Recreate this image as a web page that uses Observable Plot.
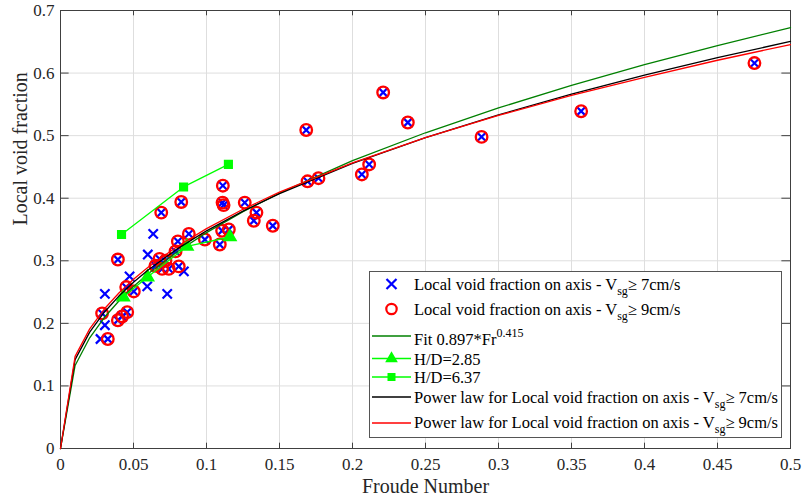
<!DOCTYPE html>
<html><head><meta charset="utf-8">
<script src="https://cdn.jsdelivr.net/npm/d3@7"></script>
<script src="https://cdn.jsdelivr.net/npm/@observablehq/plot@0.6"></script>
<style>
body{margin:0;background:#fff;}
#wrap{width:802px;height:499px;}
</style></head><body><div id="wrap"></div>
<script>
// ---- tick labels ----
const xTicks = [0,0.05,0.1,0.15,0.2,0.25,0.3,0.35,0.4,0.45,0.5];
const xTickLabels = ["0","0.05","0.1","0.15","0.2","0.25","0.3","0.35","0.4","0.45","0.5"];
const yTicks = [0,0.1,0.2,0.3,0.4,0.5,0.6,0.7];
const yTickLabels = ["0","0.1","0.2","0.3","0.4","0.5","0.6","0.7"];

// ---- Local void fraction on axis, Vsg >= 9cm/s (also part of the >= 7cm/s series) ----
const frBoth = [0.0285,0.0324,0.0393,0.0393,0.0422,0.0457,0.0450,0.0502,0.0650,0.0678,0.0696,0.0719,0.0742,0.0810,0.0788,0.0804,0.0879,0.0690,0.0827,0.0989,0.1091,0.1107,0.1153,0.1112,0.1110,0.1117,0.1262,0.1342,0.1324,0.1454,0.1683,0.1692,0.1767,0.2064,0.2114,0.2210,0.2379,0.2884,0.3566,0.4753];
const vBoth  = [0.216,0.175,0.302,0.205,0.211,0.218,0.258,0.251,0.292,0.303,0.287,0.300,0.287,0.291,0.315,0.331,0.343,0.377,0.394,0.334,0.326,0.348,0.350,0.420,0.393,0.389,0.393,0.377,0.364,0.356,0.509,0.427,0.432,0.438,0.454,0.569,0.521,0.498,0.539,0.616];
// ---- extra points of the Vsg >= 7cm/s series only ----
const frOnly7 = [0.0304,0.0304,0.0274,0.0473,0.0594,0.0598,0.0635,0.0731,0.0845];
const vOnly7  = [0.247,0.197,0.175,0.275,0.259,0.310,0.343,0.247,0.283];

// ---- H/D series ----
const frHD285 = [0.0430,0.0596,0.0866,0.1160];
const vHD285  = [0.242,0.274,0.323,0.338];
const frHD637 = [0.0418,0.0843,0.1150];
const vHD637  = [0.342,0.418,0.454];

// ---- fitted curves, values ----
const frCurve   = [0,0.01,0.02,0.03,0.04,0.05,0.06,0.08,0.1,0.125,0.15,0.2,0.25,0.3,0.35,0.4,0.45,0.5];
const fitGreen  = [0,0.1327,0.1769,0.2093,0.2358,0.2588,0.2792,0.3145,0.3450,0.3784,0.4082,0.4600,0.5046,0.5442,0.5802,0.6133,0.6440,0.6728];
const powBlack  = [0,0.1420,0.1860,0.2178,0.2436,0.2657,0.2852,0.3190,0.3479,0.3794,0.4073,0.4556,0.4969,0.5333,0.5663,0.5966,0.6245,0.6507];
const powRed    = [0,0.1472,0.1912,0.2229,0.2485,0.2704,0.2897,0.3229,0.3514,0.3823,0.4096,0.4566,0.4968,0.5323,0.5642,0.5933,0.6205,0.6456];

const FONT = "'Liberation Serif','Times New Roman',serif";
const both = frBoth.map((f,i)=>({f, v:vBoth[i]}));
const all7 = both.concat(frOnly7.map((f,i)=>({f, v:vOnly7[i]})));
const hd285 = frHD285.map((f,i)=>({f, v:vHD285[i]}));
const hd637 = frHD637.map((f,i)=>({f, v:vHD637[i]}));
const curves = frCurve.map((f,i)=>({f, g:fitGreen[i], k:powBlack[i], r:powRed[i]}));

const tk = 0.0085, tkx = 0.0059;
const GREEN = "#00ff00", DGREEN = "#008000";

const chart = Plot.plot({
  width: 802, height: 499,
  marginLeft: 60, marginRight: 12, marginTop: 10, marginBottom: 51,
  x: {domain: [0, 0.5]},
  y: {domain: [0, 0.7]},
  style: {fontFamily: FONT, fontSize: "17px", background: "white", color: "#262626"},
  marks: [
    Plot.ruleX(xTicks, {stroke: "#dedede", strokeWidth: 1}),
    Plot.ruleY(yTicks, {stroke: "#dedede", strokeWidth: 1}),
    Plot.axisX(xTicks, {tickSize: 0, tickPadding: 9, tickFormat: d => xTickLabels[xTicks.indexOf(d)], fontSize: 17, fill: "#262626", label: null}),
    Plot.axisY(yTicks, {tickSize: 0, tickPadding: 6, tickFormat: d => yTickLabels[yTicks.indexOf(d)], fontSize: 17, fill: "#262626", label: null}),
    Plot.text(["Froude Number"], {frameAnchor: "bottom", dy: 44, fontSize: 20, fill: "#262626"}),
    Plot.text(["Local void fraction"], {frameAnchor: "left", rotate: -90, dx: -40, dy: -4, fontSize: 20, fill: "#262626"}),
    // inward ticks on all four sides
    Plot.ruleX(xTicks, {y1: 0, y2: tk, stroke: "#404040"}),
    Plot.ruleX(xTicks, {y1: 0.7 - tk, y2: 0.7, stroke: "#404040"}),
    Plot.ruleY(yTicks, {x1: 0, x2: tkx, stroke: "#404040"}),
    Plot.ruleY(yTicks, {x1: 0.5 - tkx, x2: 0.5, stroke: "#404040"}),
    Plot.frame({stroke: "#404040", strokeWidth: 1}),
    // data
    Plot.dot(all7, {x: "f", y: "v", symbol: "times", r: 4.3, stroke: "#0000ff", strokeWidth: 2.2}),
    Plot.dot(both, {x: "f", y: "v", r: 5.8, stroke: "#ff0000", strokeWidth: 2.3, fill: "none"}),
    Plot.line(curves, {x: "f", y: "g", stroke: DGREEN, strokeWidth: 1.3}),
    Plot.line(hd285, {x: "f", y: "v", stroke: GREEN, strokeWidth: 1.3}),
    Plot.dot(hd285, {x: "f", y: "v", symbol: "triangle", r: 4.6, fill: GREEN, stroke: GREEN}),
    Plot.line(hd637, {x: "f", y: "v", stroke: GREEN, strokeWidth: 1.3}),
    Plot.dot(hd637, {x: "f", y: "v", symbol: "square", r: 4.3, fill: GREEN, stroke: GREEN}),
    Plot.line(curves, {x: "f", y: "k", stroke: "#000000", strokeWidth: 1.3}),
    Plot.line(curves, {x: "f", y: "r", stroke: "#ff0000", strokeWidth: 1.3})
  ]
});
document.getElementById("wrap").appendChild(chart);

// ---- legend ----
const svg = d3.select(chart);
const lg = svg.append("g").attr("font-family", FONT).attr("fill", "#000").attr("text-anchor", "start");
lg.append("rect").attr("x", 369.5).attr("y", 271.5).attr("width", 412).attr("height", 166)
  .attr("fill", "white").attr("stroke", "#555").attr("stroke-width", 1);
const mx = 391.5, tx = 414, lx1 = 372, lx2 = 411;
const FS = 16.5, SS = 12;
function subText(y, pre, sub, post) {
  const t = lg.append("text").attr("x", tx).attr("y", y).attr("font-size", FS).attr("text-anchor", "start");
  t.append("tspan").text(pre);
  t.append("tspan").attr("dy", 5).attr("font-size", SS).text(sub);
  t.append("tspan").attr("dy", -5).text(post);
}
// row 1: blue x
lg.append("path").attr("d", `M${mx-5},279 L${mx+5},289 M${mx-5},289 L${mx+5},279`)
  .attr("stroke", "#0000ff").attr("stroke-width", 2.2).attr("fill", "none");
subText(289.5, "Local void fraction on axis - V", "sg", "\u2265 7cm/s");
// row 2: red o
lg.append("circle").attr("cx", mx).attr("cy", 309).attr("r", 5.2).attr("fill", "none").attr("stroke", "#ff0000").attr("stroke-width", 2.2);
subText(314.5, "Local void fraction on axis - V", "sg", "\u2265 9cm/s");
// row 3: fit
lg.append("line").attr("x1", lx1).attr("x2", lx2).attr("y1", 336).attr("y2", 336).attr("stroke", DGREEN).attr("stroke-width", 1.3);
{
  const t = lg.append("text").attr("x", tx).attr("y", 344.5).attr("font-size", FS).attr("text-anchor", "start");
  t.append("tspan").text("Fit 0.897*Fr");
  t.append("tspan").attr("dy", -8).attr("font-size", SS).text("0.415");
}
// row 4: H/D=2.85
lg.append("line").attr("x1", lx1).attr("x2", lx2).attr("y1", 358.5).attr("y2", 358.5).attr("stroke", GREEN).attr("stroke-width", 1.3);
lg.append("path").attr("d", d3.symbol(d3.symbolTriangle, 70)()).attr("transform", `translate(${mx},358.5)`).attr("fill", GREEN);
lg.append("text").attr("x", tx).attr("y", 364.5).attr("font-size", FS).attr("text-anchor", "start").text("H/D=2.85");
// row 5: H/D=6.37
lg.append("line").attr("x1", lx1).attr("x2", lx2).attr("y1", 377).attr("y2", 377).attr("stroke", GREEN).attr("stroke-width", 1.3);
lg.append("rect").attr("x", mx-4).attr("y", 373).attr("width", 8).attr("height", 8).attr("fill", GREEN);
lg.append("text").attr("x", tx).attr("y", 383).attr("font-size", FS).attr("text-anchor", "start").text("H/D=6.37");
// row 6: black power law
lg.append("line").attr("x1", lx1).attr("x2", lx2).attr("y1", 397).attr("y2", 397).attr("stroke", "#000").attr("stroke-width", 1.3);
subText(402.5, "Power law for Local void fraction on axis - V", "sg", "\u2265 7cm/s");
// row 7: red power law
lg.append("line").attr("x1", lx1).attr("x2", lx2).attr("y1", 423).attr("y2", 423).attr("stroke", "#ff0000").attr("stroke-width", 1.3);
subText(428, "Power law for Local void fraction on axis - V", "sg", "\u2265 9cm/s");
</script></body></html>
